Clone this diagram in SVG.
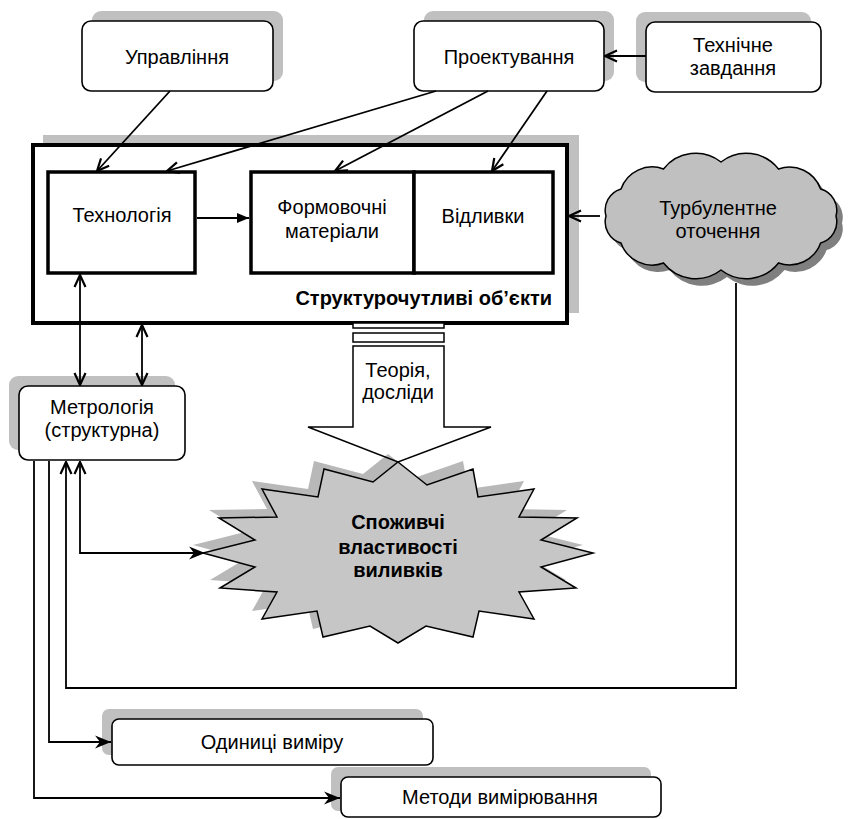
<svg xmlns="http://www.w3.org/2000/svg" width="851" height="819" viewBox="0 0 851 819">
<style>
text{font-family:"Liberation Sans",Arial,sans-serif;font-size:20px;fill:#000;text-anchor:middle}
.b{font-weight:bold}
.box{fill:#fff;stroke:#000;stroke-width:1.6}
.shd{fill:#c0c0c0}
.thick{fill:#fff;stroke:#000;stroke-width:4}
.inner{fill:#fff;stroke:#000;stroke-width:3.5}
.con{fill:none;stroke:#000;stroke-width:1.8}
</style>
<defs>
<marker id="open" markerUnits="userSpaceOnUse" viewBox="0 0 14 14" refX="13" refY="7" markerWidth="14" markerHeight="14" orient="auto-start-reverse">
<path d="M1,1.5 L13,7 L1,12.5" fill="none" stroke="#000" stroke-width="2.2"/>
</marker>
<marker id="fill" markerUnits="userSpaceOnUse" viewBox="0 0 12 12" refX="12" refY="6" markerWidth="12" markerHeight="12" orient="auto">
<path d="M0,1 L12,6 L0,11 z" fill="#000"/>
</marker>
<marker id="stealth" markerUnits="userSpaceOnUse" viewBox="0 0 16 14" refX="16" refY="7" markerWidth="16" markerHeight="14" orient="auto">
<path d="M0,0.5 L16,7 L0,13.5 L5,7 z" fill="#000"/>
</marker>
</defs>

<g id="upravlinnia">
<rect class="shd" x="92" y="11" width="191" height="70" rx="9"/>
<rect class="box" x="82" y="21" width="191" height="70" rx="9"/>
<text x="177" y="64">Управління</text>
</g>

<g id="proektuvannia">
<rect class="shd" x="424" y="11" width="190" height="70" rx="9"/>
<rect class="box" x="414" y="21" width="190" height="70" rx="9"/>
<text x="509" y="64">Проектування</text>
</g>

<g id="tekhnichne-zavdannia">
<rect class="shd" x="636" y="12" width="175" height="70" rx="9"/>
<rect class="box" x="646" y="22" width="175" height="70" rx="9"/>
<text x="733" y="52">Технічне</text>
<text x="733" y="75">завдання</text>
</g>

<g id="strukturochutlyvi">
<rect class="shd" x="43" y="135" width="536" height="178"/>
<rect class="thick" x="33" y="145" width="534" height="178"/>
<text class="b" x="552" y="305" style="text-anchor:end">Структурочутливі об’єкти</text>
</g>

<g id="tekhnolohiia">
<rect class="inner" x="48" y="172" width="147" height="101"/>
<text x="122" y="222">Технологія</text>
</g>

<g id="formovochni">
<rect class="inner" x="251" y="172" width="163" height="101"/>
<text x="332" y="214">Формовочні</text>
<text x="332" y="238">матеріали</text>
</g>

<g id="vidlyvky">
<rect class="inner" x="414" y="172" width="139" height="101"/>
<text x="483" y="223">Відливки</text>
</g>

<g id="turbulentne">
<path transform="translate(6,7)" fill="#7f7f7f" d="M606,216 A22,22 0 0 1 621,189 A33,33 0 0 1 663.5,169 A41,41 0 0 1 721,162 A41,41 0 0 1 778.5,169 A33,33 0 0 1 820.6,189 A22,22 0 0 1 836,216 A22,22 0 0 1 820.6,243 A33,33 0 0 1 778.5,263 A41,41 0 0 1 721,270 A41,41 0 0 1 663.5,263 A33,33 0 0 1 621,243 A22,22 0 0 1 606,216 Z"/>
<path fill="#c0c0c0" stroke="#000" stroke-width="1.5" d="M606,216 A22,22 0 0 1 621,189 A33,33 0 0 1 663.5,169 A41,41 0 0 1 721,162 A41,41 0 0 1 778.5,169 A33,33 0 0 1 820.6,189 A22,22 0 0 1 836,216 A22,22 0 0 1 820.6,243 A33,33 0 0 1 778.5,263 A41,41 0 0 1 721,270 A41,41 0 0 1 663.5,263 A33,33 0 0 1 621,243 A22,22 0 0 1 606,216 Z"/>
<text x="718" y="215">Турбулентне</text>
<text x="718" y="238">оточення</text>
</g>

<g id="metrolohiia">
<rect class="shd" x="9" y="376" width="166" height="74" rx="9"/>
<rect class="box" x="19" y="386" width="166" height="74" rx="9"/>
<text x="102" y="414">Метрологія</text>
<text x="102" y="437">(структурна)</text>
</g>

<g id="spozhyvchi">
<path transform="translate(-10,-8)" fill="#b8b8b8" d="M398,462 L427,485 L473,469 L478,497 L534,489 L519,517 L577,518 L541,540 L593,553 L541,567 L576,588 L519,592 L534,619 L479,611 L473,637 L426,626 L398,643 L370,626 L323,637 L317,611 L262,619 L277,592 L220,588 L255,567 L203,553 L255,540 L219,518 L277,517 L262,489 L318,497 L324,469 L373,482 Z"/>
<path fill="#c6c6c6" stroke="#000" stroke-width="1.5" d="M398,462 L427,485 L473,469 L478,497 L534,489 L519,517 L577,518 L541,540 L593,553 L541,567 L576,588 L519,592 L534,619 L479,611 L473,637 L426,626 L398,643 L370,626 L323,637 L317,611 L262,619 L277,592 L220,588 L255,567 L203,553 L255,540 L219,518 L277,517 L262,489 L318,497 L324,469 L373,482 Z"/>
<text class="b" x="398" y="529">Споживчі</text>
<text class="b" x="398" y="554">властивості</text>
<text class="b" x="398" y="577">виливків</text>
</g>

<g id="teoriia">
<rect x="353" y="323" width="91" height="5" fill="#fff" stroke="#000" stroke-width="1.5"/>
<rect x="353" y="333" width="91" height="9" fill="#fff" stroke="#000" stroke-width="1.5"/>
<path d="M353,346 L444,346 L444,427 L491,427 L398,462 L308,427 L353,427 Z" fill="none" stroke="#000" stroke-width="1.5"/>
<text x="398" y="377">Теорія,</text>
<text x="398" y="399">досліди</text>
</g>

<g id="odynytsi">
<rect class="shd" x="102" y="709" width="321" height="46" rx="7"/>
<rect class="box" x="112" y="719" width="321" height="46" rx="7"/>
<text x="272" y="749">Одиниці виміру</text>
</g>

<g id="metody">
<rect class="shd" x="331" y="767" width="320" height="44" rx="7"/>
<rect class="box" x="341" y="777" width="320" height="40" rx="7"/>
<text x="500" y="804">Методи вимірювання</text>
</g>

<g id="connectors">
<line class="con" x1="170" y1="91" x2="97" y2="171" marker-end="url(#open)"/>
<line class="con" x1="436" y1="91" x2="167" y2="171" marker-end="url(#open)"/>
<line class="con" x1="488" y1="91" x2="335" y2="171" marker-end="url(#open)"/>
<line class="con" x1="547" y1="91" x2="492" y2="171" marker-end="url(#open)"/>
<line class="con" x1="646" y1="56" x2="605" y2="56" marker-end="url(#open)"/>
<line class="con" x1="197" y1="218" x2="249" y2="218" marker-end="url(#fill)"/>
<line class="con" x1="600" y1="216" x2="569" y2="216" marker-end="url(#open)"/>
<line class="con" x1="80" y1="275" x2="80" y2="385" marker-start="url(#open)" marker-end="url(#open)"/>
<line class="con" x1="142" y1="325" x2="142" y2="385" marker-start="url(#open)" marker-end="url(#open)"/>
<path class="con" d="M80,462 L80,553 L205,553" marker-start="url(#open)" marker-end="url(#stealth)"/>
<path class="con" d="M736,283 L736,688 L66,688 L66,462" marker-end="url(#open)"/>
<path class="con" d="M49,461 L49,742 L111,742" marker-end="url(#stealth)"/>
<path class="con" d="M34,461 L34,798 L340,798" marker-end="url(#stealth)"/>
</g>
</svg>
